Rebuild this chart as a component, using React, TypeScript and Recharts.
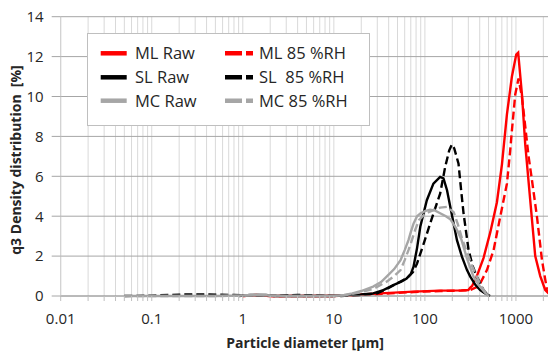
import React from 'react';
import { LineChart, Line, XAxis, YAxis, CartesianGrid } from 'recharts';

// ---- data (particle size in µm, q3 density in %) ----
const mlRawSize = [1, 1.4, 2, 10, 16, 32, 75, 147, 250, 300, 315, 330, 372, 440, 523, 618, 702, 796, 903, 1007, 1058, 1164, 1265, 1435, 1629, 1849, 2099, 2370, 2750];
const mlRawQ3 = [0, 0.05, 0, 0, 0.05, 0.13, 0.22, 0.27, 0.28, 0.3, 0.42, 0.5, 1.0, 1.9, 3.2, 4.7, 6.6, 9.1, 11.0, 12.1, 12.2, 10.1, 7.6, 4.8, 2.0, 1.0, 0.3, 0.05, 0];

const ml85Size = [1, 1.4, 2, 10, 16, 32, 75, 147, 250, 315, 372, 405, 480, 568, 672, 796, 865, 903, 982, 1067, 1164, 1265, 1376, 1500, 1702, 1931, 2193, 2450];
const ml85Q3 = [0, 0.04, 0, 0, 0.03, 0.1, 0.2, 0.25, 0.27, 0.3, 0.45, 0.63, 1.3, 2.3, 3.97, 5.63, 7.3, 8.3, 10.1, 10.9, 9.97, 8.5, 7.0, 5.8, 3.97, 1.8, 0.3, 0];

const slRawSize = [0.9, 1.2, 1.8, 2.2, 10, 12, 20, 27, 35, 45, 55, 63, 70, 75, 82, 89, 105, 124, 147, 160, 175, 190, 225, 255, 290, 315, 360, 405, 450, 480, 520];
const slRawQ3 = [0, 0.05, 0.05, 0, 0, 0.03, 0.08, 0.13, 0.3, 0.55, 0.72, 0.88, 1.1, 1.47, 2.4, 3.47, 4.8, 5.63, 5.97, 5.9, 5.3, 4.47, 2.8, 1.97, 1.3, 0.97, 0.55, 0.3, 0.15, 0.08, 0];

const sl85Size = [0.05, 0.1, 0.2, 0.4, 0.8, 1, 2, 4, 8, 12, 20, 30, 40, 49, 58, 66, 74, 82, 97, 110, 124, 147, 167, 185, 198, 210, 234, 250, 266, 302, 335, 372, 440, 480, 520];
const sl85Q3 = [0, 0.02, 0.07, 0.08, 0.05, 0.03, 0.02, 0.05, 0.02, 0, 0.05, 0.13, 0.4, 0.63, 0.8, 0.97, 1.2, 1.63, 2.63, 3.4, 4.13, 5.13, 6.47, 7.3, 7.6, 7.4, 6.63, 5.3, 4.13, 2.3, 1.5, 0.97, 0.3, 0.1, 0];

const mcRawSize = [0.05, 0.5, 1, 1.5, 2, 3, 10, 13, 16, 20, 27, 33, 38, 46, 54, 60, 66, 70, 75, 82, 89, 100, 114, 130, 147, 170, 190, 220, 251, 289, 342, 405, 460, 500];
const mcRawQ3 = [0, 0, 0.03, 0.07, 0.03, 0, 0, 0.05, 0.13, 0.25, 0.47, 0.7, 0.97, 1.35, 1.8, 2.3, 2.8, 3.2, 3.63, 4.0, 4.13, 4.25, 4.33, 4.28, 4.15, 4.0, 3.85, 3.4, 2.85, 1.9, 0.97, 0.45, 0.15, 0];

const mc85Size = [0.05, 0.5, 1, 1.5, 2, 3, 10, 13, 19, 27, 38, 46, 54, 60, 66, 72, 78, 86, 97, 110, 124, 147, 175, 207, 230, 255, 289, 330, 372, 420, 460, 500];
const mc85Q3 = [0, 0, 0.02, 0.05, 0.02, 0, 0, 0.03, 0.17, 0.35, 0.72, 1.0, 1.3, 1.8, 2.3, 2.8, 3.3, 3.8, 4.05, 4.2, 4.3, 4.43, 4.47, 4.2, 3.6, 2.9, 2.2, 1.5, 0.97, 0.45, 0.2, 0];

const decadeTicks = [0.01, 0.1, 1, 10, 100, 1000, 10000];
const decadeLabels = ['0.01', '0.1', '1', '10', '100', '1000', ''];
const minorSteps = [1, 2, 3, 4, 5, 6, 7, 8, 9];
const yTicks = [0, 2, 4, 6, 8, 10, 12, 14];

const seriesNames = ['ML Raw', 'ML 85 %RH', 'SL Raw', 'SL  85 %RH', 'MC Raw', 'MC 85 %RH'];

const RED = '#FF0000';
const BLACK = '#000000';
const GRAY = '#A6A6A6';
const FONT = '"Open Sans", sans-serif';

const toPoints = (sizes: number[], vals: number[]) => sizes.map((x, i) => ({ x, y: vals[i] }));

const xTicks: number[] = [];
decadeTicks.forEach((d, i) => {
  if (i === decadeTicks.length - 1) {
    xTicks.push(d);
  } else {
    minorSteps.forEach((m) => xTicks.push(Number((d * m).toPrecision(6))));
  }
});

const fmtX = (v: number) => {
  const idx = decadeTicks.findIndex((d) => Math.abs(d - v) / d < 1e-6);
  return idx >= 0 ? decadeLabels[idx] : '';
};

const series = [
  { name: seriesNames[0], data: toPoints(mlRawSize, mlRawQ3), color: RED, dash: undefined },
  { name: seriesNames[1], data: toPoints(ml85Size, ml85Q3), color: RED, dash: '8 4' },
  { name: seriesNames[2], data: toPoints(slRawSize, slRawQ3), color: BLACK, dash: undefined },
  { name: seriesNames[3], data: toPoints(sl85Size, sl85Q3), color: BLACK, dash: '8 4' },
  { name: seriesNames[4], data: toPoints(mcRawSize, mcRawQ3), color: GRAY, dash: undefined },
  { name: seriesNames[5], data: toPoints(mc85Size, mc85Q3), color: GRAY, dash: '8 4' },
];

const LegendBox = () => {
  const rows = [20.3, 44.3, 67.7];
  const cols = [
    { sx: 13.7, ex: 39.7, tx: 48 },
    { sx: 138, ex: 166, tx: 172 },
  ];
  return (
    <svg width={284} height={94} style={{ position: 'absolute', left: 87, top: 33 }}>
      <rect x={0.5} y={0.5} width={282} height={92} fill="#FFFFFF" stroke="#BFBFBF" strokeWidth={1} />
      {series.map((s, i) => {
        const r = rows[Math.floor(i / 2)];
        const c = cols[i % 2];
        return (
          <g key={s.name}>
            <line x1={c.sx} x2={c.ex} y1={r} y2={r} stroke={s.color} strokeWidth={4.5} strokeDasharray={s.dash ? '17 4' : undefined} />
            <text x={c.tx} y={r + 6} fontFamily={FONT} fontSize={16.5} fill="#262626" style={{ whiteSpace: 'pre' }}>
              {s.name}
            </text>
          </g>
        );
      })}
    </svg>
  );
};

export default function App() {
  return (
    <div style={{ position: 'absolute', left: 0, top: 0, width: 548, height: 356, overflow: 'hidden', background: '#FFFFFF' }}>
      <LineChart width={612} height={356} margin={{ top: 16.7, right: 5, bottom: 0, left: 10.7 }}>
        <CartesianGrid horizontal={false} vertical={true} stroke="#D9D9D9" strokeWidth={1} />
        <CartesianGrid horizontal={true} vertical={false} stroke="#A6A6A6" strokeWidth={1} />
        <XAxis
          dataKey="x"
          type="number"
          scale="log"
          domain={[0.01, 10000]}
          allowDataOverflow
          ticks={xTicks}
          interval={0}
          tickFormatter={fmtX}
          height={60}
          tickSize={5}
          tickMargin={12}
          stroke="#A0A0A0"
          tickLine={{ stroke: '#BFBFBF' }}
          tick={{ fontFamily: FONT, fontSize: 15, fill: '#262626' }}
        />
        <YAxis
          type="number"
          domain={[0, 14]}
          ticks={yTicks}
          interval={0}
          width={50}
          tickSize={9}
          tickMargin={8}
          axisLine={{ stroke: '#D0D0D0' }}
          tickLine={{ stroke: '#A6A6A6' }}
          tick={{ fontFamily: FONT, fontSize: 15, fill: '#262626' }}
        />
        {series.map((s) => (
          <Line
            key={s.name}
            name={s.name}
            data={s.data}
            dataKey="y"
            type="linear"
            stroke={s.color}
            strokeWidth={2.4}
            strokeDasharray={s.dash}
            dot={false}
            activeDot={false}
            isAnimationActive={false}
          />
        ))}
      </LineChart>
      <svg width={548} height={356} style={{ position: 'absolute', left: 0, top: 0, pointerEvents: 'none' }}>
        <text x={305} y={348} textAnchor="middle" fontFamily={FONT} fontWeight="bold" fontSize={14} fill="#262626">
          Particle diameter [µm]
        </text>
        <text
          x={0}
          y={0}
          transform="translate(21,160) rotate(-90)"
          textAnchor="middle"
          fontFamily={FONT}
          fontWeight="bold"
          fontSize={14}
          fill="#262626"
          style={{ whiteSpace: 'pre' }}
        >
          q3 Density distribution  [%]
        </text>
      </svg>
      <LegendBox />
    </div>
  );
}
